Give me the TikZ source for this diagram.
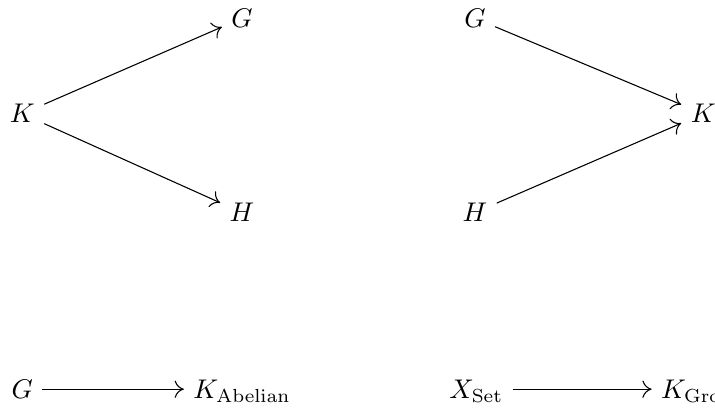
\documentclass[tikz,border=0pt]{standalone}
\usepackage{amsmath,amssymb}
\usetikzlibrary{arrows.meta,positioning,calc}

\tikzset{
  obj/.style={anchor=base},
  map/.style={->, line width=0.4pt}
}

\begin{document}
\begin{tikzpicture}[scale=0.851, >={To[length=3.4pt,width=6.4pt]}]
  \useasboundingbox (0,0) rectangle (10.93,6.33);

  % Span out of K
  \node[obj] (kl) at (0.34, 4.45) {$K$};
  \node[obj] (gl) at (3.70, 5.91) {$G$};
  \node[obj] (hl) at (3.70, 2.94) {$H$};
  \draw[map] (kl) -- (gl);
  \draw[map] (kl) -- (hl);

  % Cospan into K
  \node[obj] (gr) at (7.26, 5.91) {$G$};
  \node[obj] (hr) at (7.26, 2.94) {$H$};
  \node[obj] (kr) at (10.75, 4.45) {$K$};
  \draw[map] (gr) -- (kr);
  \draw[map] (hr) -- (kr);

  % Bottom row
  \node[obj] (g0) at (0.34, 0.24) {$G$};
  \node[obj] (kab) at (3.70, 0.24) {$K_{\mathrm{Abelian}}$};
  \draw[map] (g0) -- (g0 -| kab.west);

  \node[obj] (xset) at (7.28, 0.24) {$X_{\mathrm{Set}}$};
  \node[obj] (kgrp) at (10.75, 0.24) {$K_{\mathrm{Group}}$};
  \draw[map] (xset.east |- g0) -- (g0 -| kgrp.west);
\end{tikzpicture}
\end{document}
